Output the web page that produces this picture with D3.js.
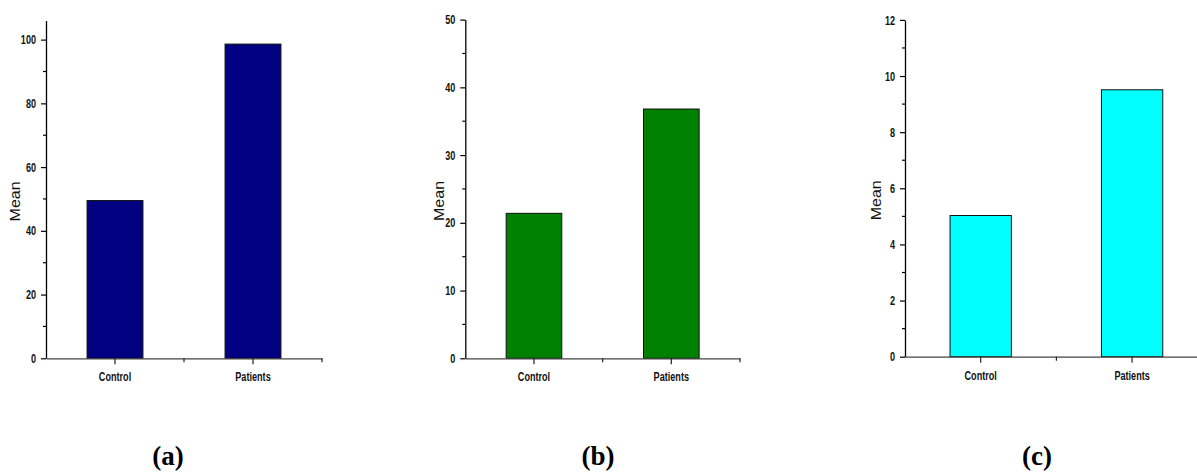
<!DOCTYPE html>
<html>
<head>
<meta charset="utf-8">
<script src="https://cdn.jsdelivr.net/npm/d3@7"></script>
<style>
  body { margin: 0; background: #fff; }
  svg { display: block; }
  .tick text { font-family: "Liberation Sans", Arial, sans-serif; font-weight: bold; font-size: 13px; fill: #111; }
  .mean { font-family: "Liberation Sans", Arial, sans-serif; font-size: 14px; fill: #111; }
  .panel-label { font-family: "Liberation Serif", "Times New Roman", Times, serif; font-weight: bold; font-size: 27px; fill: #000; }
</style>
</head>
<body>
<script>
// категории и средние значения по трём панелям
var categories = ['Control', 'Patients'];
var meanA = [49.5, 98.6];
var meanB = [21.4, 36.8];
var meanC = [5.03, 9.51];

// подписи осей
var ticksA = [0, 20, 40, 60, 80, 100], minorA = [10, 30, 50, 70, 90];
var ticksB = [0, 10, 20, 30, 40, 50], minorB = [5, 15, 25, 35, 45];
var ticksC = [0, 2, 4, 6, 8, 10, 12], minorC = [1, 3, 5, 7, 9, 11];
var yMax = [106, 50, 12];
var panelNames = ['(a)', '(b)', '(c)'];
var barColors = ['#000080', '#008000', '#00ffff'];

// размеры картинки
var w = 1197,
    h = 472;

var svg = d3.select('body').append('svg')
    .attr('width', w)
    .attr('height', h);

// расположение панелей
var layout = [
    { left: 46, right: 322, bottom: 358.3, top: 20.5, meanX: 20, labelX: 168 },
    { left: 465.3, right: 740, bottom: 358.3, top: 19.6, meanX: 443.5, labelX: 598 },
    { left: 905, right: 1207.8, bottom: 356.7, top: 19.9, meanX: 881, labelX: 1037 }
];
var series = [meanA, meanB, meanC];
var majors = [ticksA, ticksB, ticksC];
var minors = [minorA, minorB, minorC];

var sx = 0.7; // сжатие шрифта по горизонтали

layout.forEach(function(p, i) {
    var g = svg.append('g');

    var x = d3.scaleBand()
        .domain(categories)
        .range([p.left, p.right])
        .paddingInner(0.595)
        .paddingOuter(0.2975);

    var y = d3.scaleLinear()
        .domain([0, yMax[i]])
        .range([p.bottom, p.top]);

    // столбцы
    g.selectAll('rect.bar')
        .data(series[i])
        .enter()
        .append('rect')
        .attr('class', 'bar')
        .attr('x', function(d, j) { return x(categories[j]); })
        .attr('y', function(d) { return y(d); })
        .attr('width', x.bandwidth())
        .attr('height', function(d) { return y(0) - y(d); })
        .style('fill', barColors[i])
        .style('stroke', '#111')
        .style('stroke-width', 1);

    // ось Y
    var yAxis = g.append('g')
        .attr('transform', 'translate(' + p.left + ',0)')
        .call(d3.axisLeft(y).tickValues(majors[i]).tickFormat(d3.format('d')).tickSize(5).tickSizeOuter(0));
    yAxis.select('.domain').attr('stroke', '#000').attr('stroke-width', 1.3);
    yAxis.selectAll('.tick line').attr('stroke', '#000').attr('stroke-width', 1.2);
    yAxis.selectAll('.tick text')
        .attr('x', -10 / sx)
        .attr('transform', 'scale(' + sx + ',1)');

    // мелкие деления Y
    g.selectAll('line.yminor')
        .data(minors[i])
        .enter()
        .append('line')
        .attr('x1', p.left - 3)
        .attr('x2', p.left)
        .attr('y1', function(d) { return y(d); })
        .attr('y2', function(d) { return y(d); })
        .attr('stroke', '#000')
        .attr('stroke-width', 1.2);

    // ось X
    var xAxis = g.append('g')
        .attr('transform', 'translate(0,' + p.bottom + ')')
        .call(d3.axisBottom(x).tickSize(6).tickSizeOuter(0));
    xAxis.select('.domain').attr('stroke', '#444').attr('stroke-width', 1.3);
    xAxis.selectAll('.tick line').attr('stroke', '#222').attr('stroke-width', 1.2);
    xAxis.selectAll('.tick text')
        .attr('y', 23)
        .attr('dy', null)
        .attr('transform', 'scale(' + sx + ',1)');

    // мелкие деления X на границах категорий
    g.selectAll('line.xminor')
        .data(categories)
        .enter()
        .append('line')
        .attr('x1', function(c) { return x(c) + x.bandwidth() / 2 + x.step() / 2; })
        .attr('x2', function(c) { return x(c) + x.bandwidth() / 2 + x.step() / 2; })
        .attr('y1', p.bottom)
        .attr('y2', p.bottom + 4)
        .attr('stroke', '#222')
        .attr('stroke-width', 1.2);

    // подпись оси Y
    g.append('text')
        .attr('class', 'mean')
        .attr('transform', 'translate(' + p.meanX + ',' + ((p.bottom + p.top) / 2 + 12) + ')rotate(-90)')
        .attr('text-anchor', 'middle')
        .attr('textLength', 40)
        .attr('lengthAdjust', 'spacingAndGlyphs')
        .text('Mean');

    // подпись панели
    svg.append('text')
        .attr('class', 'panel-label')
        .attr('x', p.labelX)
        .attr('y', 465)
        .attr('text-anchor', 'middle')
        .text(panelNames[i]);
});
</script>
</body>
</html>
